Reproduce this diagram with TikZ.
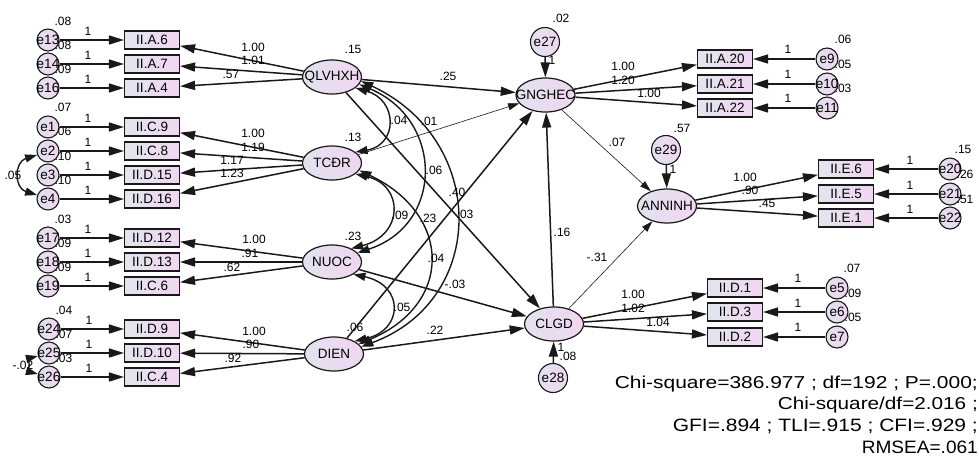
\documentclass[tikz,border=0pt]{standalone}
\usepackage{fontspec}
\usepackage{graphicx}
\setmainfont{Liberation Sans}
\usetikzlibrary{arrows.meta,shapes.geometric}
\definecolor{boxL}{RGB}{226,229,238}
\definecolor{boxR}{RGB}{241,214,241}
\definecolor{latL}{RGB}{226,226,238}
\definecolor{latR}{RGB}{240,214,240}
\definecolor{lineC}{RGB}{25,25,25}
\newcommand{\myfs}[1]{\fontsize{#1}{#1}\selectfont}
\begin{document}
\begin{tikzpicture}[x=1pt,y=-1pt,
 obs/.style={draw=lineC, line width=1.1pt, left color=boxL, right color=boxR, minimum width=55pt, minimum height=18pt, inner sep=0pt, font=\myfs{13.5}},
 lat/.style={ellipse, draw=lineC, line width=1.2pt, left color=latL, right color=latR, minimum width=59pt, minimum height=34pt, inner sep=0pt, font=\myfs{13.5}},
 err/.style={circle, draw=lineC, line width=1.1pt, left color=latL, right color=latR, minimum size=22pt, inner sep=0pt, font=\myfs{13.5}},
 errb/.style={err, minimum size=29pt},
 lbl/.style={inner sep=0pt, font=\myfs{12}},
 pth/.style={draw=lineC, line width=1.5pt, -{Triangle[length=15pt,width=9pt]}},
 thn/.style={draw=lineC, line width=0.6pt, -{Triangle[length=11pt,width=7pt]}},
 cov/.style={draw=lineC, line width=1.4pt, {Triangle[length=12pt,width=8pt]}-{Triangle[length=12pt,width=8pt]}},
]
\fill[white] (0,0) rectangle (979,459);
\useasboundingbox (0,0) rectangle (979,459);

% ---------- variance labels (drawn first, circles overlap them)
\node[lbl] (v13) at (63,21) {.08};
\node[lbl] (v14) at (63,45) {.08};
\node[lbl] (v16) at (63,69) {.09};
\node[lbl] (v1) at (63,107) {.07};
\node[lbl] (v2) at (63,131) {.06};
\node[lbl] (v3) at (63,156) {.10};
\node[lbl] (v4) at (63,180) {.10};
\node[lbl] (v17) at (63,219) {.03};
\node[lbl] (v18) at (63,243) {.09};
\node[lbl] (v19) at (63,267) {.09};
\node[lbl] (v24) at (64,310) {.04};
\node[lbl] (v25) at (64,334) {.07};
\node[lbl] (v26) at (64,358) {.03};
\node[lbl] (v9) at (843,39) {.06};
\node[lbl] (v10) at (843,64) {.05};
\node[lbl] (v11) at (843,88) {.03};
\node[lbl] (v20) at (963,149) {.15};
\node[lbl] (v21) at (965,174) {.26};
\node[lbl] (v22) at (965,199) {.51};
\node[lbl] (v5) at (852,268) {.07};
\node[lbl] (v6) at (853,293) {.09};
\node[lbl] (v7) at (853,317) {.05};
\node[lbl] (v27) at (561,18) {.02};
\node[lbl] (v29) at (682,128) {.57};
\node[lbl] (v28) at (568,356) {.08};
\node[lbl] (vq) at (353,49) {.15};
\node[lbl] (vt) at (353,137) {.13};
\node[lbl] (vn) at (353,236) {.23};
\node[lbl] (vd) at (355,327) {.06};
\node[lbl] (v24c) at (23,365) {-.02};

% ---------- observed boxes, left
\node[obs] (bA6) at (152,40) {II.A.6};
\node[obs] (bA7) at (152,64) {II.A.7};
\node[obs] (bA4) at (152,88) {II.A.4};
\node[obs] (bC9) at (152,127) {II.C.9};
\node[obs] (bC8) at (152,151) {II.C.8};
\node[obs] (bD15) at (152,175) {II.D.15};
\node[obs] (bD16) at (152,199) {II.D.16};
\node[obs] (bD12) at (152,238) {II.D.12};
\node[obs] (bD13) at (152,262) {II.D.13};
\node[obs] (bC6) at (152,286) {II.C.6};
\node[obs] (bD9) at (152,329) {II.D.9};
\node[obs] (bD10) at (152,353) {II.D.10};
\node[obs] (bC4) at (152,377) {II.C.4};

% ---------- errors, left
\node[err] (e13) at (48,40) {\makebox[0pt]{e13}};
\node[err] (e14) at (48,64) {\makebox[0pt]{e14}};
\node[err] (e16) at (48,88) {\makebox[0pt]{e16}};
\node[err] (e1) at (48,127) {\makebox[0pt]{e1}};
\node[err] (e2) at (48,151) {\makebox[0pt]{e2}};
\node[err] (e3) at (48,175) {\makebox[0pt]{e3}};
\node[err] (e4) at (48,199) {\makebox[0pt]{e4}};
\node[err] (e17) at (48,238) {\makebox[0pt]{e17}};
\node[err] (e18) at (48,262) {\makebox[0pt]{e18}};
\node[err] (e19) at (48,286) {\makebox[0pt]{e19}};
\node[err] (e24) at (49,329) {\makebox[0pt]{e24}};
\node[err] (e25) at (49,353) {\makebox[0pt]{e25}};
\node[err] (e26) at (49,377) {\makebox[0pt]{e26}};

% ---------- latent
\node[lat] (q) at (332,77) {\makebox[0pt]{QLVHXH}};
\node[lat] (t) at (332,163) {\makebox[0pt]{TCĐR}};
\node[lat] (n) at (332,262) {\makebox[0pt]{NUOC}};
\node[lat] (d) at (334,354) {\makebox[0pt]{DIEN}};
\node[lat] (g) at (545.5,95) {\makebox[0pt]{GNGHEC}};
\node[lat] (c) at (554,324) {\makebox[0pt]{CLGD}};
\node[lat] (a) at (667,206) {\makebox[0pt]{ANNINH}};
\node[errb] (e27) at (545,42) {\makebox[0pt]{e27}};
\node[errb] (e29) at (666,150) {\makebox[0pt]{e29}};
\node[errb] (e28) at (553,378) {\makebox[0pt]{e28}};

% ---------- right boxes and errors
\node[obs] (bA20) at (725,59) {II.A.20};
\node[obs] (bA21) at (725,84) {II.A.21};
\node[obs] (bA22) at (725,108) {II.A.22};
\node[err] (e9) at (827,59) {\makebox[0pt]{e9}};
\node[err] (e10) at (827,84) {\makebox[0pt]{e10}};
\node[err] (e11) at (827,108) {\makebox[0pt]{e11}};
\node[obs] (bE6) at (846,169) {II.E.6};
\node[obs] (bE5) at (846,194) {II.E.5};
\node[obs] (bE1) at (846,218) {II.E.1};
\node[err] (e20) at (950,169) {\makebox[0pt]{e20}};
\node[err] (e21) at (950,194) {\makebox[0pt]{e21}};
\node[err] (e22) at (950,218) {\makebox[0pt]{e22}};
\node[obs] (bDa) at (735,288) {II.D.1};
\node[obs] (bDb) at (735,312) {II.D.3};
\node[obs] (bDc) at (735,337) {II.D.2};
\node[err] (e5) at (837,288) {\makebox[0pt]{e5}};
\node[err] (e6) at (837,312) {\makebox[0pt]{e6}};
\node[err] (e7) at (837,337) {\makebox[0pt]{e7}};

% ---------- error arrows
\foreach \e/\b in {e13/bA6,e14/bA7,e16/bA4,e1/bC9,e2/bC8,e3/bD15,e4/bD16,e17/bD12,e18/bD13,e19/bC6,e24/bD9,e25/bD10,e26/bC4,e9/bA20,e10/bA21,e11/bA22,e20/bE6,e21/bE5,e22/bE1,e5/bDa,e6/bDb,e7/bDc}
  \draw[pth] (\e) -- (\b);
\draw[pth] (e27) -- (g);
\draw[pth] (e29) -- (a);
\draw[pth] (e28) -- (c);

% ---------- loadings
\foreach \l/\b in {q/bA6,q/bA7,q/bA4,t/bC9,t/bC8,t/bD15,t/bD16,n/bD12,n/bD13,n/bC6,d/bD9,d/bD10,d/bC4,g/bA20,g/bA21,g/bA22,a/bE6,a/bE5,a/bE1,c/bDa,c/bDb,c/bDc}
  \draw[pth] (\l) -- (\b);

% ---------- structural paths
\draw[pth] (q) -- (g);
\draw[thn] (t) -- (g);
\draw[pth] (d) -- (g);
\draw[pth] (q) -- (c);
\draw[pth] (n) -- (c);
\draw[pth] (d) -- (c);
\draw[pth] (c) -- (g);
\draw[thn] (g) -- (a);
\draw[thn] (c) -- (a);

% ---------- covariances
\draw[cov] (q.-25) .. controls (398,100) and (398,145) .. (t.25);
\draw[cov] (q.-15) .. controls (444,120) and (444,225) .. (n.20);
\draw[cov] (q.-8) .. controls (488,140) and (488,300) .. (d.15);
\draw[cov] (t.-25) .. controls (404,185) and (404,235) .. (n.35);
\draw[cov] (t.-15) .. controls (453,215) and (453,305) .. (d.22);
\draw[cov] (n.-30) .. controls (404,285) and (404,330) .. (d.32);
\draw[cov] (e2.200) .. controls (14,162) and (14,188) .. (e4.160);
\draw[cov] (e25.195) .. controls (30,358) and (30,372) .. (e26.165);

% ---------- "1" labels on error paths
\foreach \x/\y/\nm in {88/31/o13,88/55/o14,88/79/o16,88/118/o1,88/142/o2,88/166/o3,88/190/o4,88/229/o17,88/253/o18,88/277/o19,89/320/o24,89/344/o25,89/368/o26,788/49/o9,788/74/o10,788/98/o11,910/160/o20,910/185/o21,910/209/o22,798/278/o5,798/303/o6,798/327/o7,552/60/o27,673/169/o29,561/347/o28}
  \node[lbl] (\nm) at (\x,\y) {1};

% ---------- loading labels
\node[lbl] (lq1) at (253,47) {1.00};
\node[lbl] (lq2) at (253,60) {1.01};
\node[lbl] (lq3) at (231,74) {.57};
\node[lbl] (lt1) at (253,133) {1.00};
\node[lbl] (lt2) at (253,147) {1.19};
\node[lbl] (lt3) at (232,160) {1.17};
\node[lbl] (lt4) at (232,173) {1.23};
\node[lbl] (ln1) at (254,239) {1.00};
\node[lbl] (ln2) at (250,253) {.91};
\node[lbl] (ln3) at (232,267) {.62};
\node[lbl] (ld1) at (254,331) {1.00};
\node[lbl] (ld2) at (251,344) {.90};
\node[lbl] (ld3) at (233,358) {.92};
\node[lbl] (lg1) at (623,66) {1.00};
\node[lbl] (lg2) at (623,80) {1.20};
\node[lbl] (lg3) at (649,93) {1.00};
\node[lbl] (la1) at (745,177) {1.00};
\node[lbl] (la2) at (750,190) {.90};
\node[lbl] (la3) at (767,203) {.45};
\node[lbl] (lc1) at (633,294) {1.00};
\node[lbl] (lc2) at (633,308) {1.02};
\node[lbl] (lc3) at (658,322) {1.04};

% ---------- structural / covariance labels
\node[lbl] (p1) at (448,76) {.25};
\node[lbl] (p2) at (399,120) {.04};
\node[lbl] (p3) at (429,121) {.01};
\node[lbl] (p4) at (434,170) {.06};
\node[lbl] (p5) at (457,192) {.40};
\node[lbl] (p6) at (465,214) {.03};
\node[lbl] (p7) at (400,215) {.09};
\node[lbl] (p8) at (428,218) {.23};
\node[lbl] (p9) at (436,258) {.04};
\node[lbl] (p10) at (455,284) {-.03};
\node[lbl] (p11) at (402,307) {.05};
\node[lbl] (p12) at (435,330) {.22};
\node[lbl] (p13) at (562,232) {.16};
\node[lbl] (p14) at (617,142) {.07};
\node[lbl] (p15) at (597,257) {-.31};
\node[lbl] (p16) at (13,175) {.05};

% ---------- fit indices
\node[anchor=east, inner sep=0pt] (f1) at (978,384) {\resizebox{363pt}{12.5pt}{Chi-square=386.977 ; df=192 ; P=.000;}};
\node[anchor=east, inner sep=0pt] (f2) at (978,405) {\resizebox{200pt}{12.5pt}{Chi-square/df=2.016 ;}};
\node[anchor=east, inner sep=0pt] (f3) at (978,426) {\resizebox{305pt}{12.5pt}{GFI=.894 ; TLI=.915 ; CFI=.929 ;}};
\node[anchor=east, inner sep=0pt] (f4) at (978,447) {\resizebox{116pt}{12.5pt}{RMSEA=.061}};
\end{tikzpicture}
\end{document}
